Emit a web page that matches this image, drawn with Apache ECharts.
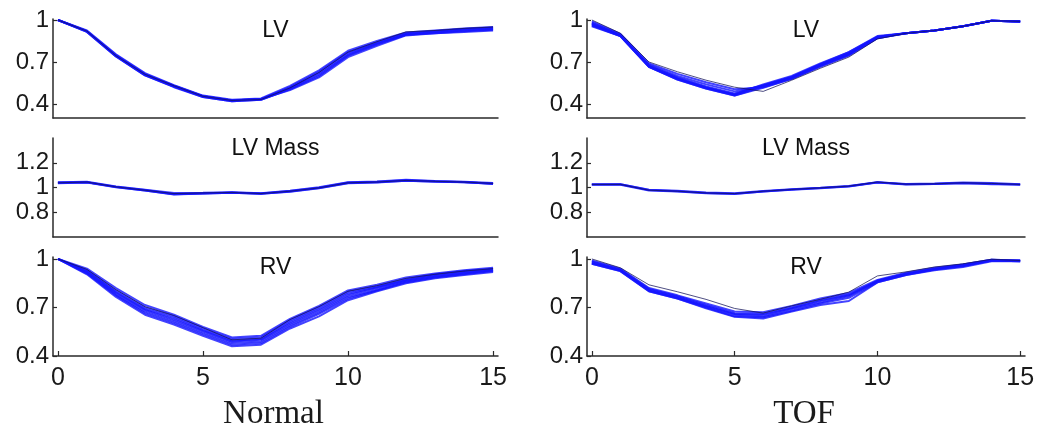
<!DOCTYPE html>
<html>
<head>
<meta charset="UTF-8">
<title>LV / LV Mass / RV - Normal vs TOF</title>
<script src="https://cdn.jsdelivr.net/npm/echarts@6/dist/echarts.min.js"></script>
<style>
    body { margin: 0; padding: 0; background: #fff; }
    #chart { width: 1050px; height: 442px; }
</style>
</head>
<body>
<div id="chart"></div>
<script>
// time frames
const frames = [0, 1, 2, 3, 4, 5, 6, 7, 8, 9, 10, 11, 12, 13, 14, 15];

// tick labels
const xTicks = [0, 5, 10, 15];
const lvTicks = [0.4, 0.7, 1];
const massTicks = [0.8, 1, 1.2];
const rvTicks = [0.4, 0.7, 1];

const panelTitles = ['LV', 'LV Mass', 'RV'];
const groupTitles = ['Normal', 'TOF'];

// Normal - LV (first curve is the dark one)
const normalLV = [
    [1.00, 0.92, 0.745, 0.612, 0.53, 0.455, 0.425, 0.432, 0.515, 0.625, 0.77, 0.845, 0.915, 0.925, 0.94, 0.95],
    [1.00, 0.925, 0.755, 0.62, 0.535, 0.46, 0.43, 0.44, 0.53, 0.64, 0.78, 0.85, 0.91, 0.925, 0.94, 0.95],
    [1.00, 0.92, 0.75, 0.615, 0.53, 0.455, 0.425, 0.435, 0.52, 0.63, 0.77, 0.84, 0.905, 0.92, 0.935, 0.945],
    [1.00, 0.92, 0.745, 0.61, 0.525, 0.455, 0.425, 0.435, 0.515, 0.62, 0.76, 0.835, 0.90, 0.915, 0.93, 0.94],
    [1.00, 0.915, 0.74, 0.605, 0.525, 0.45, 0.42, 0.43, 0.51, 0.61, 0.75, 0.83, 0.895, 0.91, 0.925, 0.935],
    [1.00, 0.915, 0.74, 0.605, 0.52, 0.45, 0.42, 0.43, 0.505, 0.60, 0.745, 0.825, 0.895, 0.905, 0.92, 0.93],
    [1.00, 0.92, 0.745, 0.61, 0.53, 0.455, 0.425, 0.435, 0.50, 0.59, 0.735, 0.815, 0.89, 0.905, 0.915, 0.925]
];

// Normal - LV Mass
const normalMass = [
    [1.038, 1.044, 1.005, 0.978, 0.951, 0.956, 0.96, 0.951, 0.97, 0.997, 1.038, 1.044, 1.057, 1.05, 1.044, 1.033],
    [1.042, 1.046, 1.008, 0.982, 0.955, 0.958, 0.962, 0.953, 0.974, 1.002, 1.042, 1.048, 1.062, 1.053, 1.046, 1.036],
    [1.036, 1.042, 1.003, 0.975, 0.946, 0.952, 0.958, 0.949, 0.966, 0.993, 1.034, 1.04, 1.054, 1.047, 1.042, 1.03],
    [1.04, 1.043, 1.006, 0.979, 0.948, 0.954, 0.959, 0.952, 0.972, 0.999, 1.04, 1.046, 1.059, 1.051, 1.043, 1.032],
    [1.034, 1.041, 1.002, 0.976, 0.944, 0.951, 0.957, 0.95, 0.968, 0.995, 1.036, 1.042, 1.055, 1.049, 1.045, 1.028]
];

// Normal - RV
const normalRV = [
    [1.00, 0.935, 0.81, 0.705, 0.65, 0.575, 0.50, 0.51, 0.625, 0.705, 0.80, 0.835, 0.88, 0.905, 0.925, 0.94],
    [1.00, 0.94, 0.82, 0.715, 0.655, 0.58, 0.515, 0.525, 0.63, 0.71, 0.805, 0.84, 0.885, 0.91, 0.93, 0.945],
    [1.00, 0.93, 0.805, 0.70, 0.645, 0.57, 0.505, 0.515, 0.62, 0.70, 0.795, 0.83, 0.875, 0.905, 0.925, 0.94],
    [1.00, 0.925, 0.795, 0.69, 0.635, 0.56, 0.495, 0.505, 0.61, 0.69, 0.785, 0.825, 0.87, 0.90, 0.92, 0.935],
    [1.00, 0.92, 0.79, 0.685, 0.625, 0.555, 0.49, 0.50, 0.60, 0.68, 0.775, 0.82, 0.865, 0.895, 0.915, 0.93],
    [1.00, 0.915, 0.78, 0.675, 0.615, 0.545, 0.48, 0.49, 0.59, 0.67, 0.765, 0.81, 0.86, 0.89, 0.91, 0.93],
    [1.00, 0.91, 0.775, 0.665, 0.605, 0.535, 0.47, 0.48, 0.58, 0.66, 0.755, 0.805, 0.855, 0.885, 0.905, 0.925],
    [1.00, 0.905, 0.765, 0.655, 0.595, 0.525, 0.46, 0.47, 0.57, 0.645, 0.745, 0.80, 0.85, 0.88, 0.90, 0.92]
];

// TOF - LV
const tofLV = [
    [1.00, 0.905, 0.70, 0.63, 0.57, 0.52, 0.49, 0.57, 0.655, 0.735, 0.865, 0.905, 0.925, 0.955, 0.995, 0.99],
    [0.99, 0.90, 0.69, 0.615, 0.555, 0.505, 0.52, 0.58, 0.67, 0.75, 0.87, 0.905, 0.925, 0.955, 0.995, 0.99],
    [0.98, 0.895, 0.68, 0.60, 0.54, 0.49, 0.53, 0.59, 0.68, 0.76, 0.875, 0.905, 0.925, 0.955, 0.995, 0.99],
    [0.975, 0.89, 0.675, 0.59, 0.525, 0.475, 0.535, 0.595, 0.685, 0.77, 0.88, 0.905, 0.925, 0.955, 0.995, 0.99],
    [0.97, 0.89, 0.67, 0.585, 0.52, 0.47, 0.54, 0.60, 0.69, 0.77, 0.885, 0.905, 0.925, 0.955, 0.995, 0.99],
    [0.965, 0.885, 0.665, 0.58, 0.515, 0.465, 0.53, 0.59, 0.68, 0.76, 0.88, 0.905, 0.925, 0.955, 0.995, 0.99],
    [0.96, 0.885, 0.665, 0.575, 0.51, 0.46, 0.525, 0.585, 0.675, 0.755, 0.875, 0.905, 0.925, 0.955, 0.995, 0.99],
    [0.955, 0.885, 0.665, 0.575, 0.51, 0.46, 0.515, 0.58, 0.665, 0.745, 0.87, 0.905, 0.925, 0.955, 0.995, 0.99]
];

// TOF - LV Mass
const tofMass = [
    [1.025, 1.025, 0.978, 0.97, 0.956, 0.951, 0.97, 0.984, 0.997, 1.011, 1.044, 1.027, 1.03, 1.038, 1.033, 1.025],
    [1.027, 1.027, 0.981, 0.973, 0.959, 0.954, 0.972, 0.986, 0.999, 1.013, 1.042, 1.029, 1.032, 1.04, 1.036, 1.027],
    [1.023, 1.023, 0.976, 0.967, 0.953, 0.948, 0.967, 0.981, 0.994, 1.008, 1.04, 1.025, 1.028, 1.035, 1.03, 1.023],
    [1.024, 1.026, 0.979, 0.969, 0.955, 0.95, 0.968, 0.983, 0.996, 1.01, 1.043, 1.026, 1.029, 1.037, 1.027, 1.024]
];

// TOF - RV
const tofRV = [
    [1.00, 0.945, 0.84, 0.797, 0.75, 0.694, 0.665, 0.71, 0.75, 0.795, 0.895, 0.92, 0.95, 0.97, 0.998, 0.99],
    [0.99, 0.94, 0.82, 0.775, 0.725, 0.675, 0.67, 0.71, 0.755, 0.79, 0.87, 0.915, 0.945, 0.965, 0.995, 0.99],
    [0.985, 0.935, 0.815, 0.77, 0.715, 0.665, 0.66, 0.70, 0.745, 0.78, 0.865, 0.91, 0.94, 0.965, 0.995, 0.99],
    [0.98, 0.93, 0.81, 0.765, 0.71, 0.66, 0.655, 0.695, 0.74, 0.775, 0.865, 0.905, 0.94, 0.96, 0.99, 0.99],
    [0.975, 0.93, 0.805, 0.76, 0.705, 0.655, 0.645, 0.69, 0.73, 0.77, 0.86, 0.905, 0.935, 0.96, 0.99, 0.985],
    [0.97, 0.925, 0.80, 0.755, 0.70, 0.645, 0.64, 0.68, 0.725, 0.76, 0.855, 0.90, 0.935, 0.955, 0.99, 0.985],
    [0.97, 0.925, 0.80, 0.755, 0.695, 0.642, 0.632, 0.675, 0.715, 0.74, 0.855, 0.90, 0.93, 0.95, 0.985, 0.985]
];

const chart = echarts.init(document.getElementById('chart'), null, { renderer: 'canvas' });

// layout of the 2 x 3 panels
const cols = [{ left: 53, right: 552 }, { left: 587, right: 25 }];
const rows = [
    { top: 19, height: 99, min: 0.3, max: 1.007, ticks: lvTicks },
    { top: 138, height: 99, min: 0.6, max: 1.4, ticks: massTicks },
    { top: 257, height: 99, min: 0.4, max: 1.012, ticks: rvTicks }
];
const panelData = [[normalLV, normalMass, normalRV], [tofLV, tofMass, tofRV]];

const axisColor = '#2a2a2a';
const grids = [], xAxes = [], yAxes = [], series = [], graphics = [];

cols.forEach((c, ci) => {
    rows.forEach((r, ri) => {
        const idx = grids.length;
        const isBottom = ri === rows.length - 1;
        grids.push({ left: c.left, right: c.right, top: r.top, height: r.height });
        xAxes.push({
            type: 'value', gridIndex: idx, min: -0.17, max: 15.17,
            axisLine: { show: true, onZero: false, lineStyle: { color: axisColor, width: 1.5 } },
            axisTick: { show: isBottom, inside: true, length: 5, customValues: xTicks, lineStyle: { color: axisColor, width: 1.2 } },
            axisLabel: {
                show: isBottom, customValues: xTicks, margin: 10,
                fontSize: 25, color: '#1a1a1a', fontFamily: 'Liberation Sans'
            },
            splitLine: { show: false }
        });
        yAxes.push({
            type: 'value', gridIndex: idx, min: r.min, max: r.max,
            axisLine: { show: true, onZero: false, lineStyle: { color: axisColor, width: 1.5 } },
            axisTick: { show: true, inside: true, length: 4, customValues: r.ticks, lineStyle: { color: axisColor, width: 1.2 } },
            axisLabel: {
                customValues: r.ticks, margin: 4, hideOverlap: false,
                fontSize: 24, color: '#1a1a1a', fontFamily: 'Liberation Sans'
            },
            splitLine: { show: false }
        });
        const curves = panelData[ci][ri];
        // draw blue ones first, the dark one (index 0) on top
        curves.slice(1).concat([curves[0]]).forEach((vals, k, arr) => {
            const dark = k === arr.length - 1;
            series.push({
                type: 'line', xAxisIndex: idx, yAxisIndex: idx,
                data: frames.map((f, i) => [f, vals[i]]),
                showSymbol: false, symbol: 'none', silent: true,
                lineStyle: {
                    color: dark ? '#14145a' : '#1414ff',
                    width: dark ? 1 : 2,
                    opacity: dark ? 0.75 : 0.8
                }
            });
        });
        graphics.push({
            type: 'text',
            x: c.left + (1050 - c.left - c.right) / 2,
            y: [31, 149, 268][ri],
            style: {
                text: panelTitles[ri], fontSize: 23, fontFamily: 'Liberation Sans',
                fill: '#111', textAlign: 'center', textVerticalAlign: 'middle'
            }
        });
    });
    graphics.push({
        type: 'text',
        x: c.left + (1050 - c.left - c.right) / 2 - 2,
        y: 414,
        style: {
            text: groupTitles[ci], fontSize: 33, fontFamily: 'Liberation Serif',
            fill: '#1a1a1a', textAlign: 'center', textVerticalAlign: 'middle'
        }
    });
});

chart.setOption({
    animation: false,
    backgroundColor: '#fff',
    grid: grids,
    xAxis: xAxes,
    yAxis: yAxes,
    series: series,
    graphic: graphics
});
</script>
</body>
</html>
